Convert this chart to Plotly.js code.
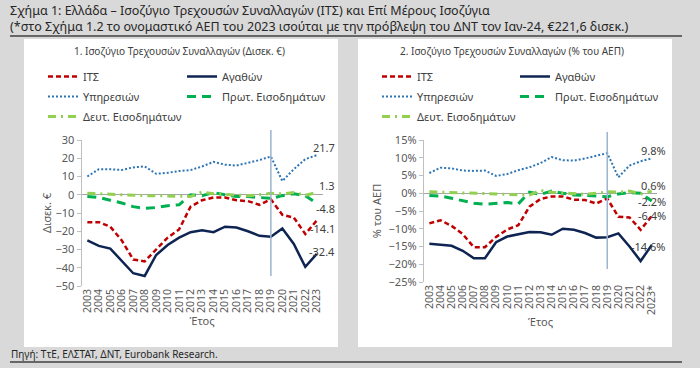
<!DOCTYPE html>
<html><head><meta charset="utf-8">
<script src="https://cdn.plot.ly/plotly-3.0.1.min.js"></script>
<style>html,body{margin:0;padding:0;background:#d9d9d9}#chart{width:700px;height:368px}</style>
</head><body><div id="chart"></div><script>
// ---- data ----
const years = [2003,2004,2005,2006,2007,2008,2009,2010,2011,2012,2013,2014,2015,2016,2017,2018,2019,2020,2021,2022,2023];
const tickLabelsA = ['2003','2004','2005','2006','2007','2008','2009','2010','2011','2012','2013','2014','2015','2016','2017','2018','2019','2020','2021','2022','2023'];
const tickLabelsB = ['2003','2004','2005','2006','2007','2008','2009','2010','2011','2012','2013','2014','2015','2016','2017','2018','2019','2020','2021','2022','2023*'];
const seriesNames = ['ΙΤΣ','Αγαθών','Υπηρεσιών','Πρωτ. Εισοδημάτων','Δευτ. Εισοδημάτων'];
const markerYear = 2019;

// Chart 1: bn EUR
const eurCA        = [-15.0,-15.0,-17.5,-25.0,-35.5,-36.5,-30.0,-23.5,-19.0,-6.5,-3.0,-1.5,-1.5,-3.0,-3.5,-5.5,-2.5,-11.0,-12.5,-21.5,-14.1];
const eurGoods     = [-25.0,-28.0,-29.5,-36.0,-43.0,-44.5,-33.0,-27.5,-23.5,-20.5,-19.5,-20.5,-17.5,-18.0,-20.0,-22.5,-23.0,-18.5,-27.0,-39.5,-32.4];
const eurServices  = [10.0,14.0,14.0,13.6,15.0,15.5,11.5,12.0,13.0,13.5,15.5,18.0,16.5,16.0,17.5,19.0,21.0,7.5,14.0,19.5,21.7];
const eurPrimary   = [-1.0,-1.5,-3.0,-4.5,-6.5,-7.5,-7.0,-6.0,-5.5,0.0,-0.5,1.2,0.0,-1.0,-1.0,-1.5,-2.0,-0.5,0.5,-0.5,-4.8];
const eurSecondary = [0.8,0.5,0.3,0.0,-0.5,-0.5,-0.5,-0.8,-1.0,-1.0,1.5,0.5,0.2,-0.3,-0.5,0.0,0.8,0.5,1.2,-0.3,1.3];

// Chart 2: % of GDP
const gdpCA        = [-8.5,-7.6,-9.2,-11.5,-15.2,-15.2,-12.3,-10.2,-9.0,-3.8,-1.6,-0.9,-0.9,-1.8,-1.9,-2.9,-1.5,-6.6,-6.8,-10.3,-6.4];
const gdpGoods     = [-14.2,-14.6,-14.8,-16.2,-18.3,-18.3,-13.8,-12.2,-11.5,-10.9,-11.0,-11.7,-10.0,-10.3,-11.2,-12.5,-12.4,-11.3,-15.0,-19.1,-14.6];
const gdpServices  = [5.7,7.2,7.0,6.4,6.3,6.4,4.9,5.4,6.5,7.3,8.5,10.2,9.3,9.2,9.8,10.5,11.3,4.5,7.8,9.0,9.8];
const gdpPrimary   = [-0.6,-0.8,-1.4,-2.0,-2.8,-3.1,-2.9,-2.6,-3.0,0.3,-0.3,0.6,0.0,-0.5,-0.6,-0.9,-1.0,-0.2,0.2,0.0,-2.2];
const gdpSecondary = [0.4,0.3,0.2,0.0,-0.2,-0.2,-0.3,-0.4,-0.5,-0.5,0.8,0.3,0.1,-0.2,-0.3,0.0,0.4,0.3,0.6,-0.2,0.6];

// ---- styles ----
const styles = [
  {color:'#c00000', width:2.5, dash:'5px,3px'},
  {color:'#0e2452', width:2.5, dash:'solid'},
  {color:'#2e75b6', width:2, dash:'2px,2px'},
  {color:'#00b050', width:3, dash:'9px,6px'},
  {color:'#92d050', width:3, dash:'8px,5px,2px,5px'}
];
// legend slot (column,row) of each series
const legendCol = [0,1,0,1,0];
const legendRow = [0,0,1,1,2];
const labelShiftA = [-8.5, 2, 7.5, -5, 6.5];   // px, per series
const labelShiftB = [0, -1, 7.8, 0, 5.3];

const setA = [eurCA, eurGoods, eurServices, eurPrimary, eurSecondary];
const setB = [gdpCA, gdpGoods, gdpServices, gdpPrimary, gdpSecondary];

const W=700,H=368;
const px=(v)=>v/W, py=(v)=>1-v/H;

const legBase={orientation:'h',xanchor:'left',yanchor:'top',bgcolor:'rgba(0,0,0,0)',font:{size:11,color:'#404040'}};
const legendLayouts={};
const colXA=[43,182], colXB=[377,515], rowY=[62,82,102];

const traces = [];
setA.forEach((vals,i)=>{
  const id = 'legend'+(i===0?'':(i+1));
  legendLayouts[id]=Object.assign({},legBase,{x:px(colXA[legendCol[i]]),y:py(rowY[legendRow[i]])});
  traces.push({x:years,y:vals,type:'scatter',mode:'lines',name:seriesNames[i],
    line:Object.assign({},styles[i]),xaxis:'x',yaxis:'y',legend:id,hoverinfo:'skip'});
});
setB.forEach((vals,i)=>{
  const id = 'legend'+(i+6);
  legendLayouts[id]=Object.assign({},legBase,{x:px(colXB[legendCol[i]]),y:py(rowY[legendRow[i]])});
  traces.push({x:years,y:vals,type:'scatter',mode:'lines',name:seriesNames[i],
    line:Object.assign({},styles[i]),xaxis:'x2',yaxis:'y2',legend:id,hoverinfo:'skip'});
});

const annFont={size:11,color:'#404040'};
const annotations=[
  {text:'Σχήμα 1: Ελλάδα – Ισοζύγιο Τρεχουσών Συναλλαγών (ΙΤΣ) και Επί Μέρους Ισοζύγια<br>(*στο Σχήμα 1.2 το ονομαστικό ΑΕΠ του 2023 ισούται με την πρόβλεψη του ΔΝΤ τον Ιαν-24, €221,6 δισεκ.)',
   xref:'paper',yref:'paper',x:px(9),y:py(18),xanchor:'left',yanchor:'middle',align:'left',borderpad:0,showarrow:false,font:{size:12.5,color:'#262626'}},
  {text:'1. Ισοζύγιο Τρεχουσών Συναλλαγών (Δισεκ. €)',xref:'paper',yref:'paper',x:px(180),y:py(51),xanchor:'center',yanchor:'middle',showarrow:false,font:{size:10,color:'#404040'}},
  {text:'2. Ισοζύγιο Τρεχουσών Συναλλαγών (% του ΑΕΠ)',xref:'paper',yref:'paper',x:px(512),y:py(51),xanchor:'center',yanchor:'middle',showarrow:false,font:{size:10,color:'#404040'}},
  {text:'Πηγή: ΤτΕ, ΕΛΣΤΑΤ, ΔΝΤ, Eurobank Research.',xref:'paper',yref:'paper',x:px(9),y:py(354),xanchor:'left',yanchor:'middle',showarrow:false,font:{size:10,color:'#262626'}}
];
const last=years.length-1;
setA.forEach((vals,i)=>annotations.push({text:vals[last].toFixed(1),x:years[last],y:vals[last],xref:'x',yref:'y',xanchor:'right',yanchor:'middle',xshift:20,yshift:labelShiftA[i],showarrow:false,font:annFont}));
setB.forEach((vals,i)=>annotations.push({text:vals[last].toFixed(1)+'%',x:years[last],y:vals[last],xref:'x2',yref:'y2',xanchor:'right',yanchor:'middle',xshift:16,yshift:labelShiftB[i],showarrow:false,font:annFont}));

const shapes=[
  {type:'rect',xref:'paper',yref:'paper',x0:px(24),x1:px(338),y0:py(347),y1:py(39),fillcolor:'#ffffff',line:{width:0},layer:'below'},
  {type:'rect',xref:'paper',yref:'paper',x0:px(358),x1:px(672),y0:py(347),y1:py(39),fillcolor:'#ffffff',line:{width:0},layer:'below'},
  {type:'line',xref:'paper',yref:'paper',x0:px(10),x1:px(682),y0:py(36),y1:py(36),line:{color:'#404040',width:1.5}},
  {type:'line',xref:'paper',yref:'paper',x0:px(10),x1:px(682),y0:py(362),y1:py(362),line:{color:'#404040',width:1.5}},
  {type:'line',xref:'x',yref:'paper',x0:markerYear,x1:markerYear,y0:py(276),y1:py(130),line:{color:'#9db3cf',width:1.5}},
  {type:'line',xref:'x2',yref:'paper',x0:markerYear,x1:markerYear,y0:py(269),y1:py(132),line:{color:'#9db3cf',width:1.5}}
];

const tickFont={size:10.5,color:'#595959'};
const xBase={range:[2002.5,2023.5],tickvals:years,tickangle:-90,showgrid:false,zeroline:false,showline:false,ticks:'',tickfont:tickFont,fixedrange:true};
const yBase={showgrid:false,zeroline:true,zerolinecolor:'#a6a6a6',zerolinewidth:1,showline:true,linecolor:'#bfbfbf',linewidth:1,ticks:'outside',ticklen:4,tickcolor:'#bfbfbf',tickfont:{size:11,color:'#595959'},fixedrange:true};

const layout=Object.assign({
  width:W,height:H,margin:{l:0,r:0,t:0,b:0},paper_bgcolor:'#d9d9d9',plot_bgcolor:'#ffffff',
  font:{family:'"Noto Sans", sans-serif',color:'#404040',size:11},
  showlegend:true,
  xaxis:Object.assign({},xBase,{domain:[px(81.6),px(322.5)],anchor:'y',ticktext:tickLabelsA,title:{text:'Έτος',font:{size:11,color:'#595959'},standoff:4}}),
  yaxis:Object.assign({},yBase,{domain:[py(286),py(140)],anchor:'x',range:[-50,30],dtick:10,title:{text:'Δισεκ. €',font:{size:11,color:'#595959'},standoff:1}}),
  xaxis2:Object.assign({},xBase,{domain:[px(423.8),px(657.3)],anchor:'y2',ticktext:tickLabelsB,title:{text:'Έτος',font:{size:11,color:'#595959'},standoff:4}}),
  yaxis2:Object.assign({},yBase,{domain:[py(282),py(140)],anchor:'x2',range:[-25,15],dtick:5,ticksuffix:'%',title:{text:'% του ΑΕΠ',font:{size:11,color:'#595959'},standoff:4}}),
  annotations:annotations,shapes:shapes
}, legendLayouts);
Plotly.newPlot('chart',traces,layout,{staticPlot:true,displayModeBar:false});
</script></body></html>
